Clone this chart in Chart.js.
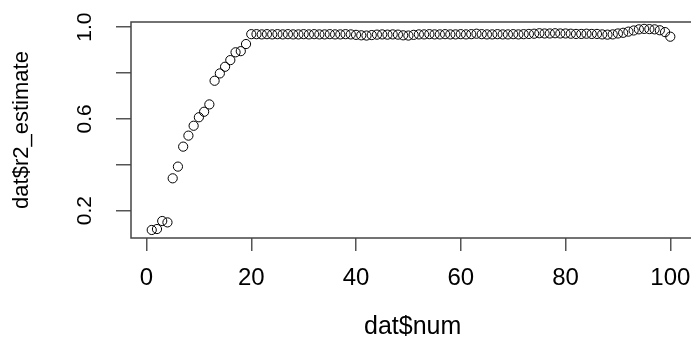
<!DOCTYPE html>
<html>
<head>
<meta charset="utf-8">
<script src="https://cdn.jsdelivr.net/npm/chart.js@4"></script>
<style>
  html, body { margin: 0; padding: 0; background: #fff; overflow: hidden; }
  #wrap { width: 700px; height: 337px; }
</style>
</head>
<body>
<div id="wrap"><canvas id="chart"></canvas></div>
<script>
// dat$num (x) and dat$r2_estimate (y)
const num = [
  1, 2, 3, 4, 5, 6, 7, 8, 9, 10,
  11, 12, 13, 14, 15, 16, 17, 18, 19, 20,
  21, 22, 23, 24, 25, 26, 27, 28, 29, 30,
  31, 32, 33, 34, 35, 36, 37, 38, 39, 40,
  41, 42, 43, 44, 45, 46, 47, 48, 49, 50,
  51, 52, 53, 54, 55, 56, 57, 58, 59, 60,
  61, 62, 63, 64, 65, 66, 67, 68, 69, 70,
  71, 72, 73, 74, 75, 76, 77, 78, 79, 80,
  81, 82, 83, 84, 85, 86, 87, 88, 89, 90,
  91, 92, 93, 94, 95, 96, 97, 98, 99, 100
];
const r2Estimate = [
  0.116, 0.120, 0.155, 0.149, 0.341, 0.392, 0.479, 0.527, 0.570, 0.607,
  0.631, 0.663, 0.766, 0.798, 0.827, 0.856, 0.890, 0.895, 0.926, 0.969,
  0.969, 0.968, 0.969, 0.968, 0.969, 0.968, 0.969, 0.968, 0.968, 0.969,
  0.968, 0.969, 0.968, 0.968, 0.969, 0.968, 0.968, 0.969, 0.968, 0.966,
  0.964, 0.963, 0.965, 0.967, 0.968, 0.967, 0.968, 0.967, 0.964, 0.963,
  0.966, 0.968, 0.968, 0.969, 0.968, 0.968, 0.969, 0.968, 0.968, 0.969,
  0.968, 0.969, 0.971, 0.969, 0.968, 0.968, 0.969, 0.968, 0.968, 0.969,
  0.968, 0.969, 0.970, 0.971, 0.973, 0.972, 0.972, 0.973, 0.972, 0.972,
  0.971, 0.970, 0.970, 0.971, 0.970, 0.970, 0.968, 0.967, 0.968, 0.972,
  0.975, 0.980, 0.985, 0.990, 0.992, 0.991, 0.990, 0.986, 0.978, 0.958
];

const xTicks = [0, 20, 40, 60, 80, 100];
const yTicks = [0.2, 0.4, 0.6, 0.8, 1.0];
const yTickLabels = ['0.2', '', '0.6', '', '1.0'];

// R-style closed box around the plot region
const boxPlugin = {
  id: 'box',
  afterDraw(chart) {
    const { ctx, chartArea: a } = chart;
    ctx.save();
    ctx.strokeStyle = '#444';
    ctx.lineWidth = 1.5;
    ctx.strokeRect(a.left, a.top, a.right - a.left, a.bottom - a.top);
    ctx.restore();
  }
};

const ctx = document.getElementById('chart').getContext('2d');

new Chart(ctx, {
  type: 'scatter',
  data: {
    datasets: [{
      data: num.map((n, i) => ({ x: n, y: r2Estimate[i] })),
      pointStyle: 'circle',
      pointRadius: 4.6,
      pointBorderWidth: 1,
      borderColor: '#000',
      backgroundColor: 'rgba(0,0,0,0)'
    }]
  },
  options: {
    responsive: true,
    maintainAspectRatio: false,
    animation: false,
    events: [],
    layout: { padding: { top: 22, right: 5, left: 0, bottom: 0 } },
    plugins: {
      legend: { display: false },
      tooltip: { enabled: false }
    },
    scales: {
      x: {
        type: 'linear',
        min: -2.96,
        max: 104.6,
        afterBuildTicks: axis => { axis.ticks = xTicks.map(v => ({ value: v })); },
        afterFit: axis => {
          axis.height = 99;
          axis.paddingLeft = 0;
          axis.paddingRight = 0;
        },
        border: { display: false },
        grid: { drawOnChartArea: false, tickLength: 13, color: '#555', lineWidth: 1.5 },
        ticks: {
          autoSkip: false,
          maxRotation: 0,
          padding: 13,
          color: '#000',
          font: { family: 'Liberation Sans', size: 24 },
          callback: v => String(v)
        },
        title: {
          display: true,
          text: 'dat$num',
          color: '#000',
          font: { family: 'Liberation Sans', size: 25, lineHeight: 0.8 },
          padding: 0
        }
      },
      y: {
        type: 'linear',
        min: 0.081,
        max: 1.022,
        afterBuildTicks: axis => { axis.ticks = yTicks.map(v => ({ value: v })); },
        afterFit: axis => {
          axis.width = 131;
          axis.paddingTop = 0;
          axis.paddingBottom = 0;
        },
        border: { display: false },
        grid: { drawOnChartArea: false, tickLength: 15, color: '#555', lineWidth: 1.5 },
        ticks: {
          autoSkip: false,
          minRotation: 90,
          maxRotation: 90,
          crossAlign: 'center',
          padding: 16,
          color: '#000',
          font: { family: 'Liberation Sans', size: 21 },
          callback: (v, i) => yTickLabels[i]
        },
        title: {
          display: true,
          text: 'dat$r2_estimate',
          color: '#000',
          font: { family: 'Liberation Sans', size: 22 },
          padding: { top: 9, bottom: 0 }
        }
      }
    }
  },
  plugins: [boxPlugin]
});
</script>
</body>
</html>
